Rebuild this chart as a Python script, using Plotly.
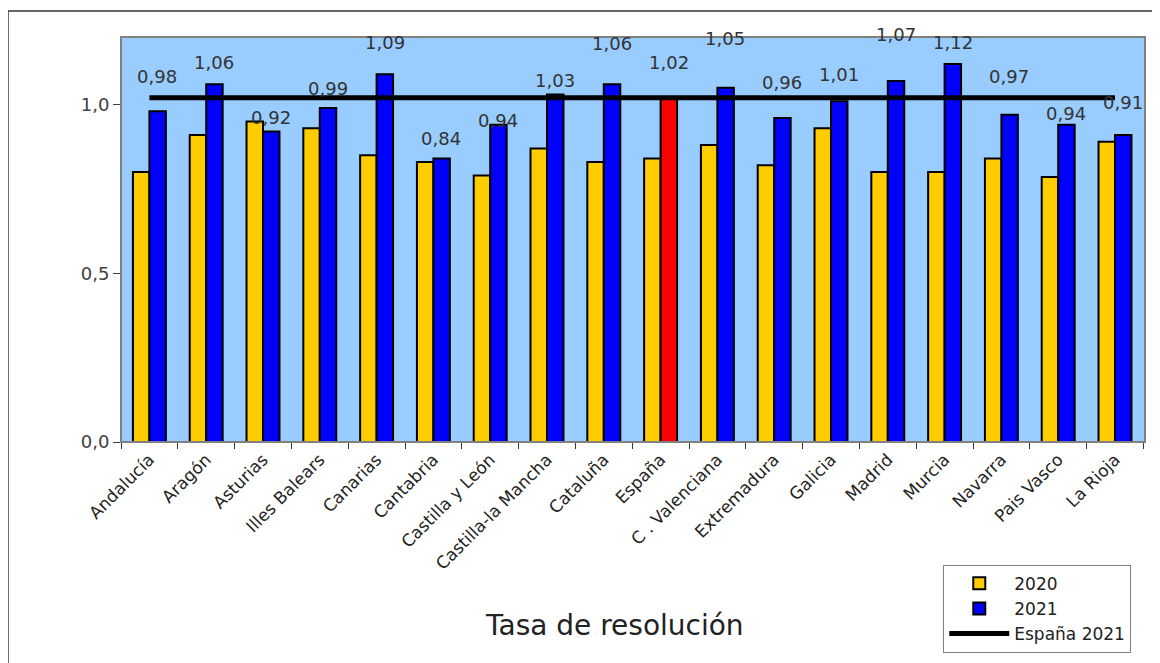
import plotly.graph_objects as go

categories = ["Andalucía", "Aragón", "Asturias", "Illes Balears", "Canarias", "Cantabria",
              "Castilla y León", "Castilla-la Mancha", "Cataluña", "España", "C . Valenciana",
              "Extremadura", "Galicia", "Madrid", "Murcia", "Navarra", "Pais Vasco", "La Rioja"]
values_2020 = [0.80, 0.91, 0.95, 0.93, 0.85, 0.83, 0.79, 0.87, 0.83, 0.84, 0.88, 0.82,
               0.93, 0.80, 0.80, 0.84, 0.785, 0.89]
values_2021 = [0.98, 1.06, 0.92, 0.99, 1.09, 0.84, 0.94, 1.03, 1.06, 1.02, 1.05, 0.96,
               1.01, 1.07, 1.12, 0.97, 0.94, 0.91]
espana_2021 = 1.02
y_ticks = [0.0, 0.5, 1.0]
y_tick_labels = ["0,0", "0,5", "1,0"]

# label vertical offsets (style, px)
label_shift = [35, 22, 14, 19, 32, 20, 4, 14, 41, 35, 49, 36, 27, 46, 22, 38, 11, 32]

FONT = "DejaVu Sans"
colors_2021 = ["#FF0000" if c == "España" else "#0000FF" for c in categories]

fig = go.Figure()
fig.add_trace(go.Bar(x=categories, y=values_2020, name="2020",
                     marker=dict(color="#FFCC00", line=dict(color="black", width=2))))
fig.add_trace(go.Bar(x=categories, y=values_2021, name="2021",
                     marker=dict(color=colors_2021, line=dict(color="black", width=2))))
fig.add_trace(go.Scatter(x=categories, y=[espana_2021] * len(categories), name="España 2021",
                         mode="lines", line=dict(color="black", width=5)))

annotations = []
for c, v, s in zip(categories, values_2021, label_shift):
    annotations.append(dict(x=c, y=v, xref="x", yref="y", text=f"{v:.2f}".replace(".", ","),
                            showarrow=False, yanchor="middle", yshift=s, xshift=8,
                            font=dict(family=FONT, size=18, color="#333333")))
annotations.append(dict(x=0.482, y=-0.453, xref="paper", yref="paper", text="Tasa de resolución",
                        showarrow=False, xanchor="center", yanchor="middle",
                        font=dict(family=FONT, size=28, color="#222222")))

fig.update_layout(
    width=1152, height=655,
    margin=dict(l=113, r=15, t=29, b=220),
    paper_bgcolor="white", plot_bgcolor="#99CCFF",
    barmode="group", bargap=0.42, bargroupgap=0,
    font=dict(family=FONT, color="#333333"),
    annotations=annotations,
    legend=dict(x=0.803, y=-0.30, xanchor="left", yanchor="top",
                bgcolor="white", bordercolor="#808080", borderwidth=1,
                font=dict(family=FONT, size=17, color="#222222"),
                tracegroupgap=0, itemwidth=60),
    shapes=[
        dict(type="rect", xref="paper", yref="paper", x0=0, x1=1, y0=0, y1=1,
             line=dict(color="#808080", width=2), layer="above"),
        dict(type="rect", xref="paper", yref="paper", x0=-0.1104, x1=1.2, y0=-1.0, y1=1.064,
             line=dict(color="#333333", width=1.5), layer="below"),
    ],
)
fig.update_xaxes(tickangle=-45, ticks="outside", ticklen=6, tickson="boundaries",
                 tickcolor="#333333", showline=True, linecolor="#404040", linewidth=1,
                 tickfont=dict(family=FONT, size=17, color="#222222"), showgrid=False)
fig.update_yaxes(range=[0, 1.2], tickvals=y_ticks, ticktext=y_tick_labels, ticks="outside",
                 ticklen=7, tickcolor="#404040", showline=True, linecolor="#333333", linewidth=1,
                 showgrid=False, zeroline=False,
                 tickfont=dict(family=FONT, size=18, color="#404040"))

fig.write_html("out.html")
